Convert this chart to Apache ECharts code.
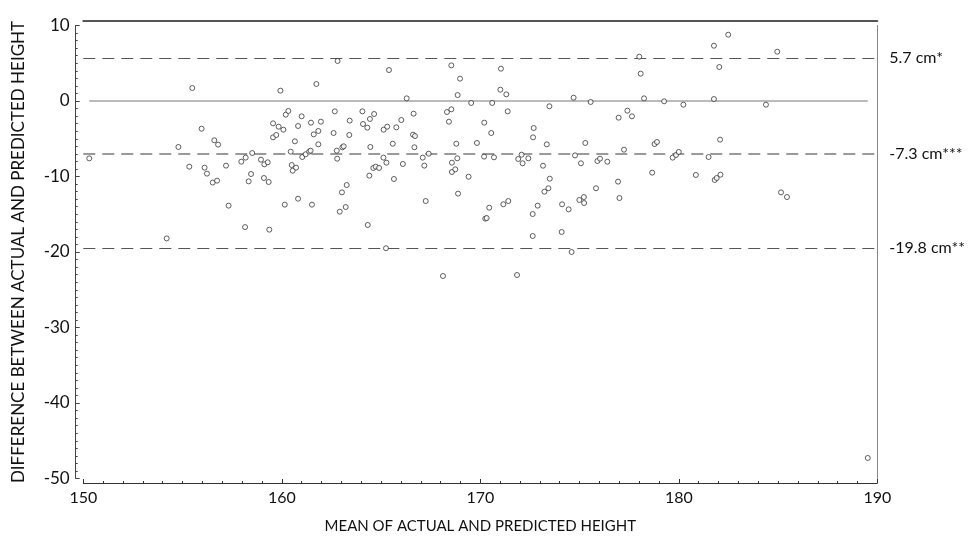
<!DOCTYPE html>
<html>
<head>
<meta charset="utf-8">
<script src="https://cdn.jsdelivr.net/npm/echarts@6/dist/echarts.min.js"></script>
<style>
html,body{margin:0;padding:0;background:#fff;}
#chart{width:973px;height:541px;}
</style>
</head>
<body>
<div id="chart"></div>
<script>
// Mean of actual and predicted height (x)
const meanHeight = [
150.3,154.2,154.79,155.34,155.49,155.96,156.11,156.23,156.52,156.6,
156.74,156.79,157.19,157.32,157.96,158.15,158.18,158.33,158.45,158.51,
158.95,159.12,159.29,159.1,159.34,159.37,159.56,159.56,159.72,159.84,
159.93,160.08,160.15,160.2,160.33,160.45,160.5,160.55,160.66,160.72,
160.82,160.82,161.0,161.03,161.2,161.38,161.45,161.47,161.52,161.61,
161.74,161.84,161.84,161.97,162.61,162.67,162.77,162.79,162.81,162.92,
163.03,163.05,163.12,163.22,163.27,163.4,163.42,164.06,164.09,164.31,
164.33,164.41,164.44,164.46,164.61,164.65,
164.73,164.9,165.12,165.13,165.25,165.27,165.31,165.4,165.59,165.65,
165.77,166.02,166.1,166.29,166.61,166.64,166.68,166.71,167.1,167.18,
167.25,167.4,168.12,168.32,168.42,168.54,168.54,168.57,168.57,168.74,
168.79,168.84,168.86,168.88,168.98,169.41,169.54,169.83,170.19,170.2,
170.25,170.32,170.45,
170.55,170.6,170.69,171.01,171.04,171.16,171.31,171.38,171.41,171.85,
171.91,172.08,172.13,172.42,172.64,172.64,172.66,172.69,172.89,173.16,
173.23,173.35,173.43,173.48,173.5,174.1,174.12,174.45,174.6,174.7,
174.77,174.99,175.07,175.22,175.23,175.29,175.56,175.83,175.9,176.03,
176.4,176.94,176.97,177.01,177.24,177.41,177.64,178.01,178.08,178.25,
178.66,178.78,178.9,179.26,179.69,179.86,180.0,180.23,180.86,181.5,
181.77,181.77,181.81,181.91,182.04,182.08,182.1,182.49,184.39,184.96,
185.15,185.45,189.52
];
// Difference between actual and predicted height (y)
const diffHeight = [
-7.6,-18.2,-6.09,-8.7,1.72,-3.67,-8.83,-9.62,-10.8,-5.2,
-10.55,-5.78,-8.56,-13.86,-8.04,-16.7,-7.5,-10.64,-9.67,-6.89,
-7.77,-8.39,-8.12,-10.2,-10.73,-17.04,-2.96,-4.81,-4.5,-3.4,
1.37,-3.8,-13.73,-1.81,-1.32,-6.71,-8.48,-9.23,-5.34,-8.83,
-3.31,-12.94,-2.03,-7.42,-7.06,-6.71,-6.58,-2.87,-13.73,-4.42,
2.25,-3.97,-5.74,-2.74,-4.24,-1.37,-6.58,-7.64,5.3,-14.66,
-12.1,-6.14,-6.0,-14.04,-11.13,-4.5,-2.6,-1.37,-3.05,-3.53,
-16.42,-9.89,-2.38,-6.09,-8.87,-1.72,
-8.7,-8.87,-7.5,-3.8,-19.5,-8.17,-3.4,4.1,-5.66,-10.33,
-3.49,-2.52,-8.34,0.35,-4.46,-1.68,-6.13,-4.64,-7.5,-8.56,
-13.25,-6.98,-23.18,-1.46,-2.74,-1.1,4.72,-8.17,-9.4,-9.05,
-5.66,-7.59,0.79,-12.27,2.96,-10.03,-0.26,-5.56,-7.37,-2.87,
-15.58,-15.5,-14.13,
-4.24,-0.26,-7.46,1.5,4.28,-13.68,0.88,-1.37,-13.25,-23.05,
-7.68,-7.11,-8.25,-7.59,-14.97,-17.88,-4.81,-3.58,-13.86,-8.57,
-12.01,-5.74,-11.56,-0.7,-10.29,-17.35,-13.68,-14.35,-20.0,0.44,
-7.2,-13.11,-8.25,-12.72,-13.51,-5.56,-0.13,-11.56,-7.95,-7.64,
-8.04,-10.68,-2.21,-12.85,-6.45,-1.28,-2.03,5.87,3.62,0.35,
-9.49,-5.7,-5.43,-0.04,-7.5,-7.15,-6.75,-0.49,-9.8,-7.42,
7.32,0.26,-10.46,-10.2,4.5,-5.12,-9.76,8.78,-0.49,6.53,
-12.1,-12.72,-47.28
];
// Limits of agreement (positions as drawn) and their labels
const limitValues = [5.7, -7.0, -19.5];
const limitLabels = ['5.7 cm*', '-7.3 cm***', '-19.8 cm**'];

const FONT = 'Lato';
const TXT = '#111';
const points = meanHeight.map((x, i) => [x, diffHeight[i]]);
const xMinData = Math.min(...meanHeight);
const xMaxData = Math.max(...meanHeight);

const chart = echarts.init(document.getElementById('chart'));
chart.setOption({
  animation: false,
  backgroundColor: '#fff',
  grid: { left: 83.3, right: 95.7, top: 25.5, bottom: 62.5 },
  xAxis: [{
    type: 'value', min: 150, max: 190, interval: 10, offset: 4.5,
    name: 'MEAN OF ACTUAL AND PREDICTED HEIGHT', nameLocation: 'middle', nameGap: 36,
    nameTextStyle: { fontFamily: FONT, fontSize: 15, color: TXT },
    axisLine: { onZero: false, lineStyle: { color: '#333', width: 1 } },
    axisTick: { inside: true, length: 4, lineStyle: { color: '#333' } },
    minorTick: { show: true, splitNumber: 10, length: 2, lineStyle: { color: '#333' } },
    axisLabel: { fontFamily: FONT, fontSize: 16, color: TXT, margin: 7 },
    splitLine: { show: false }
  }, {
    type: 'value', position: 'top', min: 150, max: 190, offset: 4.5,
    axisLine: { show: true, onZero: false, lineStyle: { color: '#555', width: 2 } },
    axisTick: { show: false }, axisLabel: { show: false }, splitLine: { show: false }
  }],
  yAxis: [{
    type: 'value', min: -50, max: 10, interval: 10, offset: 7.6,
    name: 'DIFFERENCE BETWEEN ACTUAL AND PREDICTED HEIGHT', nameLocation: 'middle', nameGap: 49,
    nameTextStyle: { fontFamily: FONT, fontSize: 17, color: TXT },
    axisLine: { show: true, onZero: false, lineStyle: { color: '#444', width: 1 } },
    axisTick: { inside: true, length: 4, lineStyle: { color: '#444' } },
    minorTick: { show: true, splitNumber: 10, length: 2, lineStyle: { color: '#444' } },
    axisLabel: { fontFamily: FONT, fontSize: 17, color: TXT, margin: 6 },
    splitLine: { show: false }
  }, {
    type: 'value', position: 'right', min: -50, max: 10,
    axisLine: { show: true, onZero: false, lineStyle: { color: '#888', width: 1 } },
    axisTick: { show: false }, axisLabel: { show: false }, splitLine: { show: false }
  }],
  series: [{
    type: 'line',
    data: [[xMinData, 0], [xMaxData, 0]],
    showSymbol: false, symbol: 'none', silent: true, z: 1,
    lineStyle: { color: '#777', width: 1 }
  }, {
    type: 'scatter',
    data: points,
    symbol: 'circle', symbolSize: 5, z: 5, silent: true,
    itemStyle: { color: '#fff', borderColor: '#222', borderWidth: 0.9 },
    markLine: {
      silent: true, symbol: 'none', z: 1,
      label: { position: 'end', distance: 12, color: TXT, fontFamily: FONT, fontSize: 16 },
      data: limitValues.map((v, i) => ({
        yAxis: v,
        label: { formatter: limitLabels[i] },
        lineStyle: i === 1
          ? { type: [12, 7], color: '#9a9a9a', width: 2 }
          : { type: [12, 7], color: '#555', width: 1 }
      }))
    }
  }]
});
</script>
</body>
</html>
